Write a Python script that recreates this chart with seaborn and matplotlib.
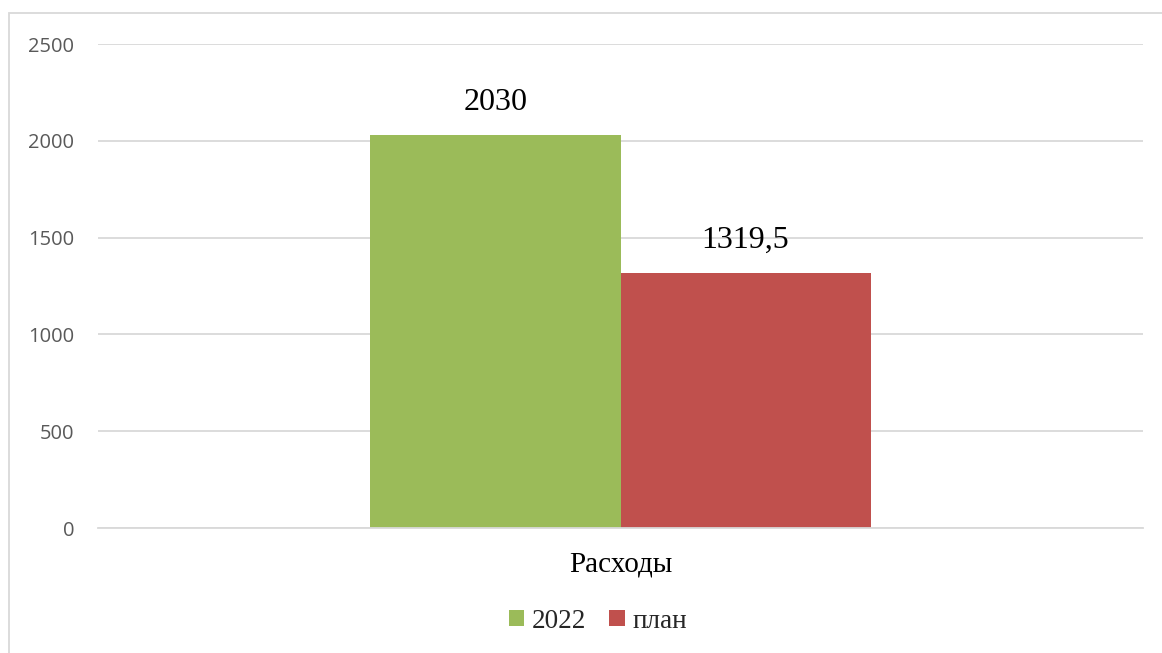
import matplotlib
matplotlib.use("Agg")
import matplotlib.pyplot as plt
import seaborn as sns
import pandas as pd
from matplotlib.patches import Rectangle, Patch

categories = ["Расходы"]
series = ["2022", "план"]
values_2022 = [2030]
values_plan = [1319.5]
label_texts = ["2030", "1319,5"]
yticks = [0, 500, 1000, 1500, 2000, 2500]
colors = ["#9BBB59", "#C0504D"]

rows = []
for s, vals in zip(series, [values_2022, values_plan]):
    for c, v in zip(categories, vals):
        rows.append({"cat": c, "series": s, "value": v})
df = pd.DataFrame(rows)

sns.set_theme(style="white")
plt.rcParams['font.family'] = ['Liberation Serif', 'DejaVu Serif']

fig = plt.figure(figsize=(11.62, 6.53), dpi=100)
ax = fig.add_axes([98/1162, 1-528/653, (1143-98)/1162, (528-44)/653])

sns.barplot(data=df, x="cat", y="value", hue="series", palette=colors,
            width=0.4785, dodge=True, ax=ax, legend=False, saturation=1,
            linewidth=0, edgecolor="none")

ax.set_xlim(-0.5, 0.5)
ax.set_ylim(0, 2500)
ax.set_yticks(yticks)
ax.set_yticklabels([str(t) for t in yticks], fontfamily="Open Sans", fontsize=14.5, color="#595959")
ax.tick_params(axis="y", length=0, pad=17)
ax.tick_params(axis="x", length=0, pad=17)
for lbl in ax.get_xticklabels():
    lbl.set_fontsize(21)
    lbl.set_color("black")
    lbl.set_fontfamily("Liberation Serif")
ax.set_xlabel("")
ax.set_ylabel("")
ax.grid(axis="y", color="#D9D9D9", linewidth=1.3)
ax.set_axisbelow(True)
for sp in ["top", "right", "left"]:
    ax.spines[sp].set_visible(False)
ax.spines["bottom"].set_color("#D9D9D9")
ax.spines["bottom"].set_linewidth(1.3)

for container, txt in zip(ax.containers, label_texts):
    for bar in container:
        ax.annotate(txt, (bar.get_x() + bar.get_width()/2, bar.get_height()),
                    xytext=(0, 13), textcoords="offset points",
                    ha="center", va="bottom", fontsize=23, color="black",
                    fontfamily="Liberation Serif")

handles = [Patch(facecolor=c, edgecolor="none") for c in colors]
fig.legend(handles, series, loc="center", bbox_to_anchor=(598/1162, 1-621/653),
           ncol=2, frameon=False, handlelength=0.56, handleheight=0.56,
           handletextpad=0.3, columnspacing=0.85,
           prop={"family": "Liberation Serif", "size": 19.5})

fig.patches.append(Rectangle((9/1162, -0.1), 1.2, 1.1 - 13/653, transform=fig.transFigure,
                             fill=False, edgecolor="#D9D9D9", linewidth=1.3))

fig.savefig("out.png", dpi=100, facecolor="white")
